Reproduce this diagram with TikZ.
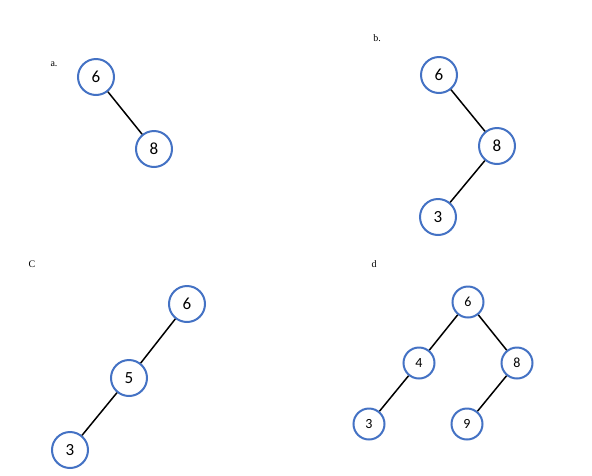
\documentclass[tikz,border=0pt]{standalone}
\usepackage{fontspec}
\setmainfont{Liberation Serif}
\newfontfamily\digitfont{Carlito}
\definecolor{ringblue}{RGB}{68,114,196}

\begin{document}
\begin{tikzpicture}[x=1pt, y=-1pt,
  every path/.style={line width=1.5pt},
  vertex/.style={circle, draw=ringblue, line width=2pt, fill=white, minimum size=36pt, inner sep=0pt, font=\digitfont\fontsize{17}{17}\selectfont},
  smallvertex/.style={vertex, minimum size=31pt, font=\digitfont\fontsize{14}{14}\selectfont},
  tag/.style={font=\fontsize{10}{10}\selectfont}]

\useasboundingbox (0,0) rectangle (592,475);

% Tree a
\node[tag] (la) at (54,64) {a.};
\node[vertex] (a6) at (96,77) {6};
\node[vertex] (a8) at (154,149) {8};

\draw (a6) -- (a8);

% Tree b
\node[tag] (lb) at (377,38) {b.};
\node[vertex] (b6) at (439,75) {6};
\node[vertex] (b8) at (497,146) {8};
\node[vertex] (b3) at (438,217) {3};

\draw (b6) -- (b8) -- (b3);

% Tree C
\node[tag] (lc) at (32,264) {C};
\node[vertex] (c6) at (187,304) {6};
\node[vertex] (c5) at (129,378) {5};
\node[vertex] (c3) at (70,450) {3};

\draw (c6) -- (c5) -- (c3);

% Tree d
\node[tag] (ld) at (374,264) {d};
\node[smallvertex] (d6) at (468,302) {6};
\node[smallvertex] (d4) at (419,363) {4};
\node[smallvertex] (d8) at (517,363) {8};
\node[smallvertex] (d3) at (369,424) {3};
\node[smallvertex] (d9) at (467,424) {9};

\draw (d6) -- (d4) -- (d3);
\draw (d6) -- (d8) -- (d9);

\end{tikzpicture}
\end{document}
